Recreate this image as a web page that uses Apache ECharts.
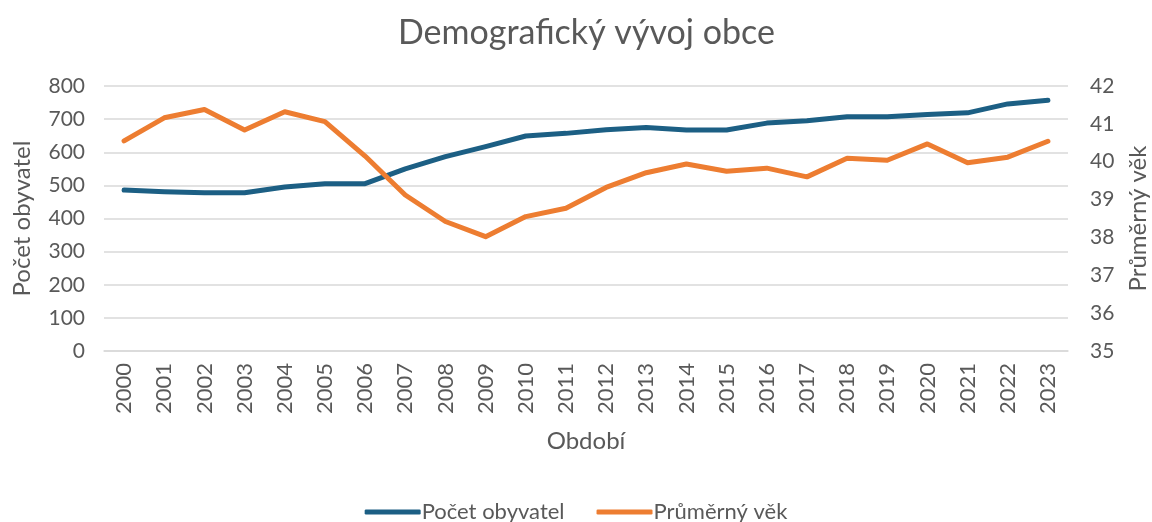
<!DOCTYPE html>
<html>
<head>
<meta charset="utf-8">
<script src="https://cdn.jsdelivr.net/npm/echarts@6/dist/echarts.min.js"></script>
<style>
  html, body { margin: 0; padding: 0; background: #fff; }
  #chart { width: 1152px; height: 522px; }
</style>
</head>
<body>
<div id="chart"></div>
<script>
// data
var years = ['2000', '2001', '2002', '2003', '2004', '2005', '2006', '2007', '2008', '2009', '2010', '2011',
  '2012', '2013', '2014', '2015', '2016', '2017', '2018', '2019', '2020', '2021', '2022', '2023']
var population = [486, 481, 478, 478, 495, 505, 505, 550, 587, 617, 649, 657,
  668, 675, 667, 667, 688, 695, 707, 707, 714, 719, 746, 757]
var avgAge = [40.55, 41.16, 41.38, 40.84, 41.32, 41.06, 40.15, 39.12, 38.42, 38.02, 38.55, 38.77,
  39.32, 39.71, 39.94, 39.75, 39.83, 39.6, 40.09, 40.04, 40.47, 39.97, 40.12, 40.54]

var textColor = '#595959'
var font = 'Lato'

var option = {
  textStyle: { fontFamily: font },
  title: {
    text: 'Demografický vývoj obce',
    left: 393,
    top: 11,
    textStyle: { fontFamily: font, fontSize: 34, fontWeight: 'normal', color: textColor }
  },
  legend: {
    bottom: -6,
    left: 'center',
    itemWidth: 56,
    itemHeight: 5,
    itemGap: 32,
    icon: 'roundRect',
    textStyle: { fontFamily: font, fontSize: 22, color: textColor, padding: [0, 0, 0, -4] },
    data: ['Počet obyvatel', 'Průměrný věk']
  },
  grid: { left: 104, right: 84, top: 86, bottom: 171, outerBoundsMode: 'none' },
  xAxis: {
    type: 'category',
    data: years,
    name: 'Období',
    nameLocation: 'middle',
    nameGap: 78,
    nameTextStyle: { fontFamily: font, fontSize: 24, color: textColor },
    axisLine: { lineStyle: { color: '#D9D9D9', width: 1.5 } },
    axisTick: { show: false },
    axisLabel: { rotate: 90, fontSize: 22, color: textColor, margin: 12 }
  },
  yAxis: [
    {
      type: 'value',
      min: 0,
      max: 800,
      interval: 100,
      name: 'Počet obyvatel',
      nameLocation: 'middle',
      nameGap: 70,
      nameTextStyle: { fontFamily: font, fontSize: 24, color: textColor },
      axisLine: { show: false },
      axisTick: { show: false },
      axisLabel: { fontSize: 21, color: textColor, margin: 19 },
      splitLine: { lineStyle: { color: '#D9D9D9', width: 1.5 } }
    },
    {
      type: 'value',
      min: 35,
      max: 42,
      interval: 1,
      name: 'Průměrný věk',
      nameLocation: 'middle',
      nameGap: 58,
      nameRotate: 90,
      nameTextStyle: { fontFamily: font, fontSize: 24, color: textColor },
      axisLine: { show: false },
      axisTick: { show: false },
      axisLabel: { fontSize: 21, color: textColor, margin: 22 },
      splitLine: { show: false }
    }
  ],
  series: [
    {
      name: 'Počet obyvatel',
      type: 'line',
      yAxisIndex: 0,
      data: population,
      symbol: 'none',
      lineStyle: { color: '#1C5F84', width: 5, cap: 'round', join: 'round' },
      itemStyle: { color: '#1C5F84' }
    },
    {
      name: 'Průměrný věk',
      type: 'line',
      yAxisIndex: 1,
      data: avgAge,
      symbol: 'none',
      lineStyle: { color: '#ED7D31', width: 5, cap: 'round', join: 'round' },
      itemStyle: { color: '#ED7D31' }
    }
  ]
}

var chart = echarts.init(document.getElementById('chart'))
chart.setOption(option)
window.addEventListener('resize', function () {
  chart.resize()
})
</script>
</body>
</html>
